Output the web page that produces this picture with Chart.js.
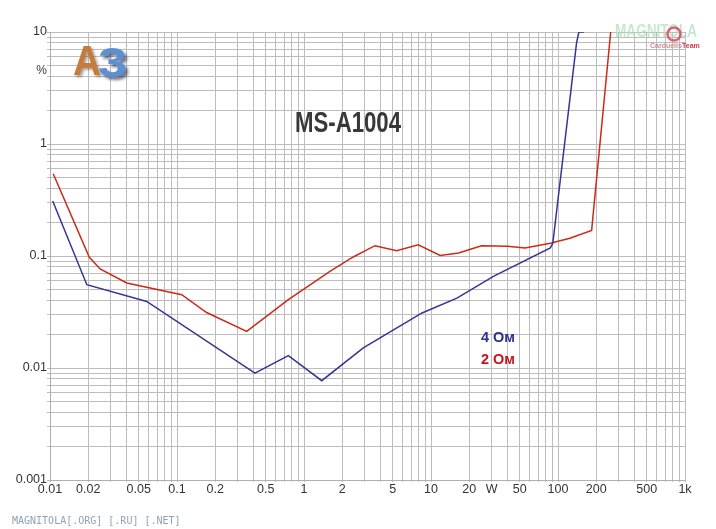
<!DOCTYPE html>
<html>
<head>
<meta charset="utf-8">
<script src="https://cdn.jsdelivr.net/npm/chart.js@4.4.1/dist/chart.umd.min.js"></script>
<style>
html,body{margin:0;padding:0;background:#fff;}
#wrap{width:716px;height:529px;position:relative;}
</style>
</head>
<body>
<div id="wrap"><canvas id="c" width="716" height="529"></canvas></div>
<script>
// ---- data ----
const blueX = [0.0105, 0.0195, 0.0577, 0.411, 0.753, 1.38, 2.93, 8.5, 16, 31, 87, 91, 140, 146, 160];
const blueY = [0.31, 0.0554, 0.0393, 0.0090, 0.0129, 0.0077, 0.0151, 0.031, 0.042, 0.0657, 0.118, 0.13, 8.0, 10, 10];
const redX = [0.0106, 0.0204, 0.0248, 0.0402, 0.109, 0.171, 0.354, 0.753, 1.6, 2.44, 3.62, 5.37, 7.94, 11.8, 16.5, 25, 40, 55, 87, 124, 184, 260];
const redY = [0.543, 0.0972, 0.0766, 0.0574, 0.0451, 0.0313, 0.0212, 0.0407, 0.0729, 0.098, 0.1236, 0.1115, 0.126, 0.1012, 0.1064, 0.1236, 0.122, 0.1179, 0.130, 0.144, 0.1694, 10];
const seriesNames = ['4 Ом', '2 Ом'];
const xLabelValues = [0.01, 0.02, 0.05, 0.1, 0.2, 0.5, 1, 2, 5, 10, 20, 30, 50, 100, 200, 500, 1000];
const xLabelTexts = ['0.01', '0.02', '0.05', '0.1', '0.2', '0.5', '1', '2', '5', '10', '20', 'W', '50', '100', '200', '500', '1k'];
const yLabelValues = [0.001, 0.01, 0.1, 1, 10];
const yLabelTexts = ['0.001', '0.01', '0.1', '1', '10'];
const titleText = 'MS-A1004';
const unitText = '%';

// grid positions: 1..9 in every decade
function decadeGrid(fromExp, toExp) {
  const out = [];
  for (let e = fromExp; e < toExp; e++) {
    for (let m = 1; m <= 9; m++) out.push(parseFloat((m * Math.pow(10, e)).toPrecision(6)));
  }
  out.push(Math.pow(10, toExp));
  return out;
}
const xGrid = decadeGrid(-2, 3);
const yGrid = decadeGrid(-3, 1);

function labelFor(v, vals, texts) {
  for (let i = 0; i < vals.length; i++) {
    if (Math.abs(v / vals[i] - 1) < 1e-6) return texts[i];
  }
  return '';
}

function pts(xs, ys) { return xs.map((x, i) => ({x: x, y: ys[i]})); }

function drawFit(ctx, text, x, baseY, targetW, font, color) {
  ctx.save();
  ctx.font = font;
  ctx.fillStyle = color;
  ctx.textBaseline = 'alphabetic';
  ctx.textAlign = 'left';
  const w = ctx.measureText(text).width;
  const s = targetW / w;
  ctx.translate(x, baseY);
  ctx.scale(s, 1);
  ctx.fillText(text, 0, 0);
  ctx.restore();
}

const decor = {
  id: 'decor',
  beforeDraw(chart) {
    const ctx = chart.ctx;
    ctx.save();
    ctx.fillStyle = '#ffffff';
    ctx.fillRect(0, 0, chart.width, chart.height);
    ctx.restore();
  },
  afterDraw(chart) {
    const ctx = chart.ctx;
    const ys = chart.scales.y;
    // unit label
    ctx.save();
    ctx.font = '12px "Liberation Sans", Arial, sans-serif';
    ctx.fillStyle = '#3a3a3a';
    ctx.textAlign = 'right';
    ctx.textBaseline = 'middle';
    ctx.fillText(unitText, 47, ys.getPixelForValue(4.5));
    ctx.restore();

    // A3 logo
    ctx.save();
    ctx.shadowColor = 'rgba(60,40,20,0.45)';
    ctx.shadowOffsetX = 2; ctx.shadowOffsetY = 2; ctx.shadowBlur = 3;
    drawFit(ctx, 'A', 73, 75, 28, 'bold 43px "Liberation Sans", Arial, sans-serif', '#c47b3b');
    ctx.shadowColor = 'rgba(20,30,60,0.6)';
    ctx.shadowOffsetX = 3; ctx.shadowOffsetY = 3; ctx.shadowBlur = 3;
    drawFit(ctx, '3', 98, 77, 29, 'bold 43px "Liberation Sans", Arial, sans-serif', '#5d8fd1');
    ctx.restore();

    // title
    drawFit(ctx, titleText, 295, 132, 106, 'bold 29px "Liberation Sans", Arial, sans-serif', '#383838');

    // legend texts
    drawFit(ctx, seriesNames[0], 481, 342, 34, 'bold 15px "Liberation Sans", Arial, sans-serif', '#2e2f8f');
    drawFit(ctx, seriesNames[1], 481, 363.5, 34, 'bold 15px "Liberation Sans", Arial, sans-serif', '#c8141e');

    // top-right watermark
    ctx.save();
    drawFit(ctx, 'MAGNITOLA', 615, 37, 82, 'bold 19px "Liberation Sans", Arial, sans-serif', 'rgba(175,222,185,0.7)');
    ctx.strokeStyle = 'rgba(220,70,90,0.85)';
    ctx.lineWidth = 2.5;
    ctx.beginPath();
    ctx.arc(674, 34, 6.5, 0, Math.PI * 2);
    ctx.stroke();
    ctx.font = 'bold 7px "Liberation Sans", Arial, sans-serif';
    ctx.textBaseline = 'alphabetic';
    ctx.fillStyle = '#c4909a';
    ctx.fillText('Carduelis', 650, 47.5);
    ctx.fillStyle = '#d23a4c';
    ctx.fillText('Team', 682, 47.5);
    ctx.restore();

    // bottom site text
    ctx.save();
    ctx.font = '10px "DejaVu Sans Mono", monospace';
    ctx.fillStyle = '#8fa3b6';
    ctx.textBaseline = 'alphabetic';
    ctx.fillText('MAGNITOLA[.ORG] [.RU] [.NET]', 12, 523.5);
    ctx.restore();
  }
};

const gridCol = '#bdbdbd';
const tickFont = {family: '"Liberation Sans", Arial, sans-serif', size: 12.5};

new Chart(document.getElementById('c'), {
  type: 'line',
  data: {
    datasets: [
      {label: seriesNames[0], data: pts(blueX, blueY), borderColor: '#353594', borderWidth: 1.5, pointRadius: 0, tension: 0, fill: false},
      {label: seriesNames[1], data: pts(redX, redY), borderColor: '#cc2a16', borderWidth: 1.5, pointRadius: 0, tension: 0, fill: false}
    ]
  },
  options: {
    responsive: false,
    animation: false,
    devicePixelRatio: 1,
    layout: {padding: {left: 0, right: 31, top: 32, bottom: 29}},
    plugins: {legend: {display: false}, tooltip: {enabled: false}, title: {display: false}},
    scales: {
      x: {
        type: 'logarithmic',
        min: 0.01, max: 1000,
        afterBuildTicks(scale) { scale.ticks = xGrid.map(v => ({value: v})); },
        afterFit(scale) { scale.height = 20; },
        grid: {color: gridCol, lineWidth: 1, drawTicks: true, tickLength: 2},
        border: {display: true, color: '#b0b0b0'},
        ticks: {
          autoSkip: false, maxRotation: 0, minRotation: 0, padding: 0,
          color: '#333333', font: tickFont,
          callback: (v) => labelFor(v, xLabelValues, xLabelTexts)
        }
      },
      y: {
        type: 'logarithmic',
        min: 0.001, max: 10,
        afterBuildTicks(scale) { scale.ticks = yGrid.map(v => ({value: v})); },
        afterFit(scale) { scale.width = 50; },
        grid: {color: gridCol, lineWidth: 1, drawTicks: true, tickLength: 3},
        border: {display: true, color: '#b0b0b0'},
        ticks: {
          autoSkip: false, padding: 0,
          color: '#333333', font: tickFont,
          callback: (v) => labelFor(v, yLabelValues, yLabelTexts)
        }
      }
    }
  },
  plugins: [decor]
});
</script>
</body>
</html>
